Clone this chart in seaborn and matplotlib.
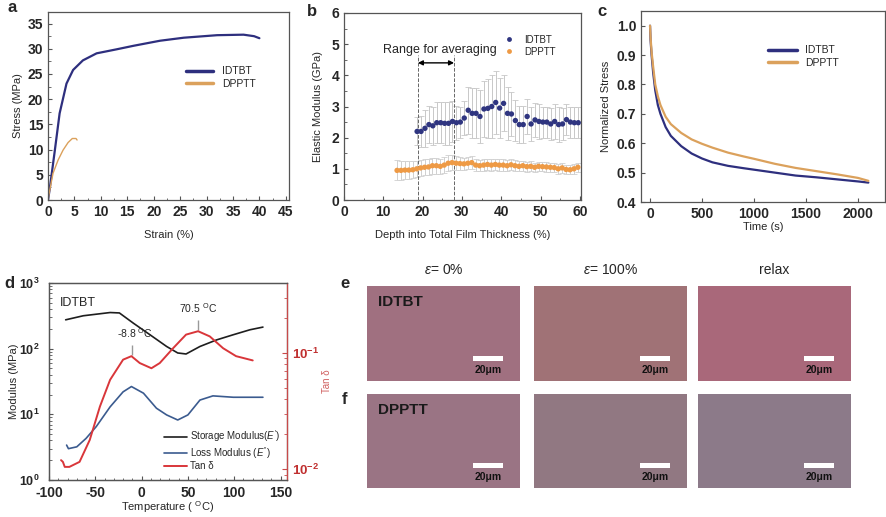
import matplotlib
matplotlib.use("Agg")
import matplotlib.pyplot as plt
import seaborn as sns
import pandas as pd
from matplotlib.ticker import AutoMinorLocator, FixedLocator, FixedFormatter, NullFormatter
from matplotlib.patches import Rectangle

# ---- panel a: stress-strain
strain_idtbt = [0, 0.3, 1.3, 2.2, 3.5, 4.75, 6.6, 9.2, 13, 16.2, 21.2, 25.7, 32, 37, 39, 40]
stress_idtbt = [0, 2, 9.9, 17.2, 23.1, 25.8, 27.7, 29.1, 29.9, 30.6, 31.6, 32.2, 32.7, 32.8, 32.5, 32.1]
strain_dpptt = [0, 0.1, 0.95, 1.9, 2.85, 3.8, 4.6, 5.3, 5.5]
stress_dpptt = [0, 0.7, 5.3, 7.9, 9.9, 11.4, 12.2, 12.2, 11.9]

# ---- panel b: nanoindentation modulus
depth_idtbt = [18.6, 19.6, 20.6, 21.6, 22.6, 23.6, 24.6, 25.6, 26.6, 27.6, 28.6, 29.6, 30.6, 31.6,
               32.6, 33.6, 34.6, 35.6, 36.6, 37.6, 38.6, 39.6, 40.6, 41.6, 42.6, 43.6, 44.6, 45.6,
               46.6, 47.6, 48.6, 49.6, 50.6, 51.6, 52.6, 53.6, 54.6, 55.6, 56.6, 57.6, 58.6, 59.6]
mod_idtbt = [2.2, 2.2, 2.3, 2.42, 2.38, 2.48, 2.48, 2.46, 2.46, 2.52, 2.48, 2.5, 2.63, 2.88,
             2.78, 2.78, 2.68, 2.92, 2.94, 3.0, 3.13, 2.95, 3.1, 2.78, 2.76, 2.55, 2.42, 2.42,
             2.68, 2.44, 2.57, 2.52, 2.5, 2.5, 2.44, 2.52, 2.42, 2.44, 2.58, 2.5, 2.48, 2.48]
err_idtbt = [0.45, 0.5, 0.6, 0.6, 0.6, 0.65, 0.65, 0.7, 0.7, 0.65, 0.55, 0.5, 0.55, 0.75,
             0.8, 0.8, 0.85, 0.9, 0.95, 1.0, 1.0, 0.95, 0.9, 0.85, 0.7, 0.65, 0.6, 0.6,
             0.55, 0.55, 0.55, 0.55, 0.5, 0.5, 0.5, 0.55, 0.55, 0.5, 0.5, 0.5, 0.5, 0.5]
depth_dpptt = [13.5, 14.5, 15.5, 16.5, 17.5, 18.5, 19.5, 20.5, 21.5, 22.5, 23.5, 24.5, 25.5, 26.5,
               27.5, 28.5, 29.5, 30.5, 31.5, 32.5, 33.5, 34.5, 35.5, 36.5, 37.5, 38.5, 39.5, 40.5,
               41.5, 42.5, 43.5, 44.5, 45.5, 46.5, 47.5, 48.5, 49.5, 50.5, 51.5, 52.5, 53.5, 54.5,
               55.5, 56.5, 57.5, 58.5, 59.5]
mod_dpptt = [0.95, 0.95, 0.96, 0.96, 0.97, 1.0, 1.03, 1.05, 1.06, 1.1, 1.1, 1.08, 1.12, 1.18,
             1.2, 1.18, 1.17, 1.16, 1.18, 1.2, 1.12, 1.1, 1.12, 1.14, 1.12, 1.14, 1.12, 1.12,
             1.1, 1.13, 1.1, 1.08, 1.1, 1.07, 1.08, 1.05, 1.08, 1.07, 1.06, 1.05, 1.04, 1.0,
             1.03, 0.98, 0.97, 1.0, 1.05]
err_dpptt = [0.32, 0.3, 0.3, 0.28, 0.28, 0.26, 0.25, 0.25, 0.25, 0.25, 0.25, 0.25, 0.25, 0.25,
             0.25, 0.22, 0.22, 0.2, 0.2, 0.2, 0.18, 0.18, 0.18, 0.18, 0.18, 0.18, 0.18, 0.18,
             0.17, 0.17, 0.17, 0.16, 0.16, 0.16, 0.16, 0.15, 0.15, 0.15, 0.15, 0.15, 0.15, 0.15,
             0.15, 0.15, 0.15, 0.15, 0.15]

# ---- panel c: stress relaxation
time_c = [0, 5, 15, 30, 50, 75, 100, 150, 200, 300, 400, 500, 600, 750, 900, 1000, 1200,
          1400, 1600, 1800, 2000, 2100]
relax_idtbt = [1.0, 0.95, 0.90, 0.84, 0.78, 0.73, 0.70, 0.655, 0.625, 0.59, 0.565, 0.548,
               0.535, 0.523, 0.515, 0.51, 0.5, 0.49, 0.484, 0.477, 0.47, 0.466]
relax_dpptt = [1.0, 0.96, 0.91, 0.86, 0.80, 0.76, 0.73, 0.69, 0.665, 0.635, 0.613, 0.598,
               0.585, 0.568, 0.555, 0.547, 0.53, 0.516, 0.505, 0.494, 0.482, 0.472]

# ---- panel d: DMA
temp_storage = [-82, -63, -34, -24, -9, 9, 27, 39, 48, 63, 81, 99, 117, 131]
storage = [275, 317, 355, 350, 245, 163, 108, 86, 83, 108, 136, 163, 194, 213]
temp_loss = [-81, -79, -70, -60, -49, -34, -20, -11, 2, 16, 27, 39, 50, 63, 77, 99, 131]
loss = [3.4, 3.0, 3.2, 4.3, 6.5, 13, 22, 26.5, 21, 12.4, 9.8, 8.2, 9.8, 16.5, 19.1, 18.2, 18.2]
temp_tan = [-87, -85, -83, -78, -67, -56, -45, -34, -20, -11, -2, 10.6, 19.6, 34, 48, 61, 73.6,
            88, 102, 120]
tan_delta = [0.012, 0.0116, 0.0105, 0.0105, 0.0116, 0.0179, 0.0347, 0.0589, 0.0877, 0.094,
             0.082, 0.074, 0.082, 0.11, 0.144, 0.154, 0.139, 0.11, 0.094, 0.0864]

# ---- panels e/f: micrographs
col_titles = ["$\\varepsilon$= 0%", "$\\varepsilon$= 100%", "relax"]
row_names = ["IDTBT", "DPPTT"]
micro_colors = [["#a07080", "#a07276", "#a9687a"],
                ["#9a7484", "#917882", "#8c7a89"]]

NAVY = "#2e2f7e"
ORANGE = "#dba15c"

sns.set_style("ticks")
plt.rcParams["font.family"] = ["Liberation Sans", "DejaVu Sans"]
plt.rcParams["mathtext.fontset"] = "custom"
plt.rcParams["mathtext.rm"] = "Liberation Sans"
plt.rcParams["mathtext.it"] = "Liberation Sans:italic"
plt.rcParams["mathtext.bf"] = "Liberation Sans:bold"
plt.rcParams["axes.unicode_minus"] = False
plt.rcParams["xtick.direction"] = "in"
plt.rcParams["ytick.direction"] = "in"
plt.rcParams["axes.edgecolor"] = "#555555"
plt.rcParams["axes.linewidth"] = 0.9

W, H = 887, 517
fig = plt.figure(figsize=(W / 100, H / 100), dpi=100)


def px_axes(l, t, r, b):
    return fig.add_axes([l / W, 1 - b / H, (r - l) / W, (b - t) / H])


def style_ticks(ax):
    ax.tick_params(labelsize=10, length=3, width=0.8, color="#555555")
    ax.tick_params(which="minor", length=1.8, width=0.6, color="#555555")
    for lab in ax.get_xticklabels() + ax.get_yticklabels():
        lab.set_fontweight("bold")


# ---------- a ----------
ax = px_axes(48, 12, 289, 200)
df_a = pd.concat([
    pd.DataFrame({"strain": strain_idtbt, "stress": stress_idtbt, "film": "IDTBT"}),
    pd.DataFrame({"strain": strain_dpptt, "stress": stress_dpptt, "film": "DPPTT"}),
])
sns.lineplot(data=df_a, x="strain", y="stress", hue="film", size="film",
             sizes={"IDTBT": 1.6, "DPPTT": 1.0}, palette={"IDTBT": NAVY, "DPPTT": ORANGE},
             sort=False, estimator=None, ax=ax, legend=False)
ax.plot([], [], color=NAVY, lw=2.5, label="IDTBT")
ax.plot([], [], color=ORANGE, lw=2.5, label="DPPTT")
ax.legend(loc="upper right", bbox_to_anchor=(0.9, 0.76), frameon=False, fontsize=7.5,
          handlelength=2.6, handletextpad=0.8, labelspacing=0.25)
ax.set_xlim(0, 45.6)
ax.set_ylim(0, 37.3)
ax.set_xticks(range(0, 46, 5))
ax.set_yticks(range(0, 36, 5))
ax.xaxis.set_minor_locator(AutoMinorLocator(2))
ax.yaxis.set_minor_locator(AutoMinorLocator(2))
ax.set_xlabel("Strain (%)", fontsize=8, labelpad=8)
ax.set_ylabel("Stress (MPa)", fontsize=8, labelpad=3)
style_ticks(ax)
fig.text(8 / W, 1 - 8 / H, "a", fontsize=12, fontweight="bold", va="center")

# ---------- b ----------
ax = px_axes(344, 13, 581, 200)
ax.errorbar(depth_idtbt, mod_idtbt, yerr=err_idtbt, fmt="none", ecolor="#c8c8c8",
            elinewidth=0.7, capsize=2, capthick=0.6)
ax.errorbar(depth_dpptt, mod_dpptt, yerr=err_dpptt, fmt="none", ecolor="#d0d0d0",
            elinewidth=0.7, capsize=2, capthick=0.6)
df_b = pd.concat([
    pd.DataFrame({"depth": depth_idtbt, "mod": mod_idtbt, "film": "IDTBT"}),
    pd.DataFrame({"depth": depth_dpptt, "mod": mod_dpptt, "film": "DPPTT"}),
])
sns.scatterplot(data=df_b, x="depth", y="mod", hue="film",
                palette={"IDTBT": "#2f3580", "DPPTT": "#ee9a45"}, s=15, edgecolor="none",
                ax=ax, zorder=3)
ax.legend(loc="upper right", bbox_to_anchor=(0.93, 0.93), frameon=False, fontsize=7,
          handletextpad=0.6, labelspacing=0.2, markerscale=0.9, title=None)
ax.vlines([18.8, 28.0], 0, 4.65, colors="#666666", linestyles="--", lw=0.7)
ax.annotate("", xy=(18.8, 4.4), xytext=(28.0, 4.4),
            arrowprops=dict(arrowstyle="<|-|>", color="black", lw=1.0, mutation_scale=7,
                            shrinkA=0, shrinkB=0))
ax.text(24.5, 4.82, "Range for averaging", fontsize=9, ha="center", va="center")
ax.set_xlim(0, 60.3)
ax.set_ylim(0, 6)
ax.set_xticks(range(0, 61, 10))
ax.set_yticks(range(0, 7))
ax.xaxis.set_minor_locator(AutoMinorLocator(2))
ax.yaxis.set_minor_locator(AutoMinorLocator(2))
ax.set_xlabel("Depth into Total Film Thickness (%)", fontsize=8, labelpad=8)
ax.set_ylabel("Elastic Modulus (GPa)", fontsize=8, labelpad=6)
style_ticks(ax)
fig.text(307 / W, 1 - 12 / H, "b", fontsize=12, fontweight="bold", va="center")

# ---------- c ----------
ax = px_axes(641, 11, 885, 202)
df_c = pd.DataFrame({"time": time_c + time_c,
                     "stress": relax_idtbt + relax_dpptt,
                     "film": ["IDTBT"] * len(time_c) + ["DPPTT"] * len(time_c)})
sns.lineplot(data=df_c, x="time", y="stress", hue="film",
             palette={"IDTBT": NAVY, "DPPTT": ORANGE}, lw=1.6, ax=ax, legend=False)
ax.plot([], [], color=NAVY, lw=2.5, label="IDTBT")
ax.plot([], [], color=ORANGE, lw=2.5, label="DPPTT")
ax.legend(loc="upper right", bbox_to_anchor=(0.85, 0.87), frameon=False, fontsize=7.5,
          handlelength=2.8, handletextpad=0.8, labelspacing=0.25)
ax.set_xlim(-87, 2260)
ax.set_ylim(0.4, 1.05)
ax.set_xticks([0, 500, 1000, 1500, 2000])
ax.set_yticks([0.4, 0.5, 0.6, 0.7, 0.8, 0.9, 1.0])
ax.set_yticklabels(["0.4", "0.5", "0.6", "0.7", "0.8", "0.9", "1.0"])
ax.set_xlabel("Time (s)", fontsize=8, labelpad=1)
ax.set_ylabel("Normalized Stress", fontsize=8, labelpad=4)
style_ticks(ax)
fig.text(597 / W, 1 - 12 / H, "c", fontsize=12, fontweight="bold", va="center")

# ---------- d ----------
ax = px_axes(49, 283, 287, 480)
ax2 = ax.twinx()
sns.lineplot(x=temp_storage, y=storage, color="#1e1e1e", lw=1.2, ax=ax,
             label="Storage Modulus($E'$)", legend=False)
sns.lineplot(x=temp_loss, y=loss, color="#3b5b8f", lw=1.2, ax=ax,
             label="Loss Modulus ($E''$)", legend=False)
sns.lineplot(x=temp_tan, y=tan_delta, color="#d9363a", lw=1.4, ax=ax2,
             label="Tan δ", legend=False)
ax.set_yscale("log")
ax2.set_yscale("log")
ax.set_xlim(-100, 157)
ax.set_ylim(1, 1000)
ax2.set_ylim(0.0081, 0.40)
ax.set_xticks([-100, -50, 0, 50, 100, 150])
ax.xaxis.set_minor_locator(AutoMinorLocator(5))
ax.yaxis.set_major_locator(FixedLocator([1, 10, 100, 1000]))
ax.yaxis.set_major_formatter(FixedFormatter(["$\\mathbf{10^{0}}$", "$\\mathbf{10^{1}}$",
                                             "$\\mathbf{10^{2}}$", "$\\mathbf{10^{3}}$"]))
ax.yaxis.set_minor_formatter(NullFormatter())
ax2.yaxis.set_major_locator(FixedLocator([0.01, 0.1]))
ax2.yaxis.set_major_formatter(FixedFormatter(["$\\mathbf{10^{-2}}$", "$\\mathbf{10^{-1}}$"]))
ax2.yaxis.set_minor_formatter(NullFormatter())
ax2.spines["right"].set_color("#c84a4a")
ax2.tick_params(axis="y", which="both", colors="#c84a4a", labelcolor="#c03030",
                labelsize=9.5, direction="in")
ax2.set_ylabel("Tan δ", fontsize=7, color="#d06060", labelpad=2)
ax.vlines([-10], 81, 115, colors="#999999", lw=1.0)
ax.vlines([61], 190, 275, colors="#999999", lw=1.0)
ax.text(-7, 135, "-8.8 $^{\\mathrm{O}}$C", fontsize=7.5, ha="center", va="bottom")
ax.text(61, 320, "70.5 $^{\\mathrm{O}}$C", fontsize=7.5, ha="center", va="bottom")
ax.text(-88, 490, "IDTBT", fontsize=9, ha="left", va="center")
h1, l1 = ax.get_legend_handles_labels()
h2, l2 = ax2.get_legend_handles_labels()
ax2.legend(h1 + h2, l1 + l2, loc="lower right", bbox_to_anchor=(1.01, 0.0), frameon=False,
           fontsize=7, handlelength=2.4, handletextpad=0.3, labelspacing=0.05)
ax.set_xlabel("Temperature ( $^{\\mathrm{O}}$C)", fontsize=8, labelpad=0)
ax.set_ylabel("Modulus (MPa)", fontsize=8, labelpad=0)
style_ticks(ax)
ax.tick_params(axis="y", labelsize=9, pad=7)
ax.tick_params(axis="x", pad=4)
for lab in ax2.get_yticklabels():
    lab.set_fontweight("bold")
fig.text(4 / W, 1 - 283 / H, "d", fontsize=12, fontweight="bold", va="center")

# ---------- e / f ----------
col_x = [(367, 520), (534, 687), (698, 851)]
row_y = [(286, 381), (394, 488)]
for i, (t, b) in enumerate(row_y):
    for j, (l, r) in enumerate(col_x):
        axm = px_axes(l, t, r, b)
        axm.set_facecolor(micro_colors[i][j])
        axm.set_xticks([])
        axm.set_yticks([])
        for s in axm.spines.values():
            s.set_visible(False)
        axm.add_patch(Rectangle((0.69, 0.21), 0.2, 0.055, transform=axm.transAxes,
                                color="white", lw=0))
        axm.text(0.79, 0.17, "20μm", transform=axm.transAxes, fontsize=7.5, fontweight="bold",
                 ha="center", va="top", color="#111111")
        if j == 0:
            axm.text(0.07, 0.83, row_names[i], transform=axm.transAxes, fontsize=11,
                     fontweight="bold", ha="left", va="center", color="#1a1a1a")
        if i == 0:
            fig.text((l + r) / 2 / W, 1 - 270 / H, col_titles[j], fontsize=10,
                     ha="center", va="center")
fig.text(340 / W, 1 - 283 / H, "e", fontsize=12, fontweight="bold", va="center")
fig.text(342 / W, 1 - 399 / H, "f", fontsize=12, fontweight="bold", va="center")

fig.savefig("out.png", dpi=100)
